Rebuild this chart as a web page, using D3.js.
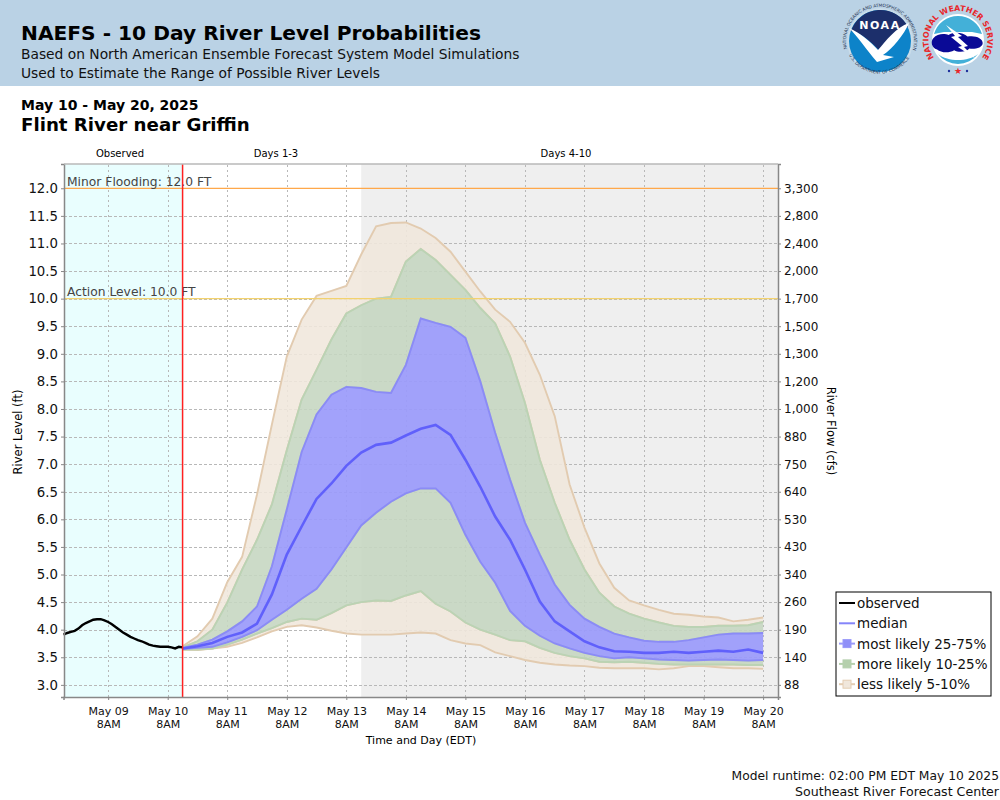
<!DOCTYPE html>
<html>
<head>
<meta charset="utf-8">
<script src="https://cdn.jsdelivr.net/npm/d3@7"></script>
<style>
  body { margin: 0; background: #fff; }
  text { font-family: "DejaVu Sans", sans-serif; }
</style>
</head>
<body>
<div id="chart"></div>
<script>
// river level in ft, one value every 90 minutes from May 8 2PM
var observed = [3.91, 3.94, 3.96, 3.98, 4.02, 4.08, 4.12, 4.15, 4.18, 4.19, 4.19, 4.17, 4.14, 4.10, 4.05, 4.00, 3.95, 3.91, 3.87, 3.84, 3.81, 3.79, 3.76, 3.73, 3.71, 3.70, 3.69, 3.69, 3.69, 3.68, 3.66, 3.69, 3.68];

// forecast, one value every 6 hours from May 10 2PM
var p95 = [3.70, 3.88, 4.20, 4.86, 5.32, 6.45, 7.72, 8.95, 9.62, 10.05, 10.14, 10.23, 10.80, 11.31, 11.37, 11.38, 11.27, 11.10, 10.85, 10.49, 10.13, 9.80, 9.58, 9.20, 8.62, 7.87, 6.63, 5.85, 5.20, 4.76, 4.53, 4.44, 4.36, 4.29, 4.27, 4.24, 4.22, 4.15, 4.18, 4.22];
var p90 = [3.68, 3.79, 4.00, 4.49, 5.09, 5.63, 6.27, 7.25, 8.17, 8.71, 9.26, 9.73, 9.88, 10.00, 10.03, 10.67, 10.90, 10.70, 10.43, 10.16, 9.83, 9.55, 8.95, 8.11, 7.08, 6.30, 5.63, 5.09, 4.67, 4.42, 4.29, 4.20, 4.13, 4.07, 4.05, 4.05, 4.07, 4.07, 4.08, 4.14];
var p75 = [3.67, 3.73, 3.82, 3.97, 4.15, 4.42, 5.15, 6.18, 7.22, 7.90, 8.26, 8.40, 8.38, 8.31, 8.29, 8.80, 9.64, 9.56, 9.49, 9.29, 8.50, 7.57, 6.72, 5.94, 5.36, 4.82, 4.45, 4.20, 4.05, 3.93, 3.86, 3.80, 3.78, 3.78, 3.81, 3.86, 3.91, 3.93, 3.93, 3.94];
var median = [3.66, 3.70, 3.76, 3.87, 3.95, 4.11, 4.64, 5.36, 5.87, 6.37, 6.65, 6.97, 7.21, 7.35, 7.39, 7.52, 7.64, 7.71, 7.53, 7.08, 6.59, 6.05, 5.63, 5.09, 4.51, 4.15, 3.97, 3.79, 3.68, 3.61, 3.60, 3.58, 3.58, 3.60, 3.58, 3.60, 3.62, 3.60, 3.64, 3.58];
var p25 = [3.65, 3.67, 3.69, 3.77, 3.87, 3.99, 4.18, 4.36, 4.56, 4.74, 5.09, 5.49, 5.89, 6.12, 6.32, 6.47, 6.56, 6.56, 6.30, 5.72, 5.23, 4.85, 4.34, 4.07, 3.89, 3.75, 3.66, 3.58, 3.52, 3.48, 3.50, 3.48, 3.46, 3.45, 3.44, 3.45, 3.46, 3.45, 3.44, 3.45];
var p10 = [3.64, 3.64, 3.66, 3.73, 3.82, 3.93, 4.03, 4.14, 4.20, 4.18, 4.30, 4.44, 4.50, 4.53, 4.52, 4.62, 4.70, 4.47, 4.33, 4.13, 4.00, 3.91, 3.81, 3.79, 3.67, 3.58, 3.52, 3.48, 3.42, 3.41, 3.42, 3.40, 3.38, 3.37, 3.37, 3.37, 3.37, 3.37, 3.36, 3.36];
var p05 = [3.64, 3.63, 3.66, 3.69, 3.76, 3.86, 3.97, 4.05, 4.08, 4.04, 3.98, 3.93, 3.91, 3.91, 3.91, 3.93, 3.95, 3.93, 3.81, 3.75, 3.72, 3.59, 3.52, 3.45, 3.40, 3.37, 3.35, 3.34, 3.31, 3.30, 3.30, 3.30, 3.28, 3.30, 3.34, 3.34, 3.32, 3.30, 3.30, 3.29];

var levelTicks = [3, 3.5, 4, 4.5, 5, 5.5, 6, 6.5, 7, 7.5, 8, 8.5, 9, 9.5, 10, 10.5, 11, 11.5, 12];
var flowLabels = ["88", "140", "190", "260", "340", "430", "530", "640", "750", "880", "1,000", "1,200", "1,300", "1,500", "1,700", "2,000", "2,400", "2,800", "3,300"];
var dayLabels = ["May 09", "May 10", "May 11", "May 12", "May 13", "May 14", "May 15", "May 16", "May 17", "May 18", "May 19", "May 20"];
var legendLabels = ["observed", "median", "most likely 25-75%", "more likely 10-25%", "less likely 5-10%"];

var margin = {top: 164, right: 222, bottom: 103, left: 64},
    width = 1000 - margin.left - margin.right,
    height = 800 - margin.top - margin.bottom;

var tan = "#e2cbb0", green = "#bbd3b4";

function hoursFrom(start, n) { return new Date(start + n * 3600000); }
var obsStart = Date.UTC(2025, 4, 8, 14),
    fcstStart = Date.UTC(2025, 4, 10, 14),
    day4Start = Date.UTC(2025, 4, 13, 14),
    plotEnd = Date.UTC(2025, 4, 20, 14);

var svg = d3.select("#chart").append("svg")
    .attr("width", 1000)
    .attr("height", 800);

// header
svg.append("rect").attr("width", 1000).attr("height", 86).attr("fill", "#bad2e5");
svg.append("text").attr("x", 21).attr("y", 40).attr("font-size", 20.2).attr("font-weight", "bold")
    .text("NAEFS - 10 Day River Level Probabilities");
svg.append("text").attr("x", 21).attr("y", 59).attr("font-size", 13.8).attr("fill", "#111")
    .text("Based on North American Ensemble Forecast System Model Simulations");
svg.append("text").attr("x", 21).attr("y", 78).attr("font-size", 13.8).attr("fill", "#111")
    .text("Used to Estimate the Range of Possible River Levels");
svg.append("text").attr("x", 21).attr("y", 110).attr("font-size", 14).attr("font-weight", "bold")
    .text("May 10 - May 20, 2025");
svg.append("text").attr("x", 21).attr("y", 131).attr("font-size", 18.2).attr("font-weight", "bold")
    .text("Flint River near Griffin");

// NOAA logo
var noaa = svg.append("g").attr("transform", "translate(880,41)");
noaa.append("circle").attr("r", 33).attr("fill", "#c9dce9");
noaa.append("circle").attr("r", 31).attr("fill", "#0d83c9");
noaa.append("path").attr("fill", "#1c2f6b")
    .attr("d", "M-29,-10 A31,31 0 0 1 28,-14 C18,-10 8,2 0,10 C-8,2 -18,-8 -29,-10 Z");
noaa.append("path").attr("fill", "#fff")
    .attr("d", "M-31,-13 C-20,-8 -10,0 -2,9 C6,0 16,-14 29,-18 C24,-6 12,8 3,14 L14,16 L-3,21 C-14,8 -22,-4 -31,-13 Z");
noaa.append("text").attr("text-anchor", "middle").attr("y", -12).attr("font-size", 11).attr("font-weight", "bold")
    .attr("letter-spacing", 1.5).attr("fill", "#fff").text("NOAA");
noaa.append("path").attr("id", "noaaRing").attr("fill", "none").attr("d", "M-33,8 A34,34 0 1 1 33,8");
noaa.append("text").attr("font-size", 4.3).attr("fill", "#23304e")
    .append("textPath").attr("href", "#noaaRing").text("NATIONAL OCEANIC AND ATMOSPHERIC ADMINISTRATION");
noaa.append("path").attr("id", "noaaRing2").attr("fill", "none").attr("d", "M-31,14 A35,35 0 0 0 31,14");
noaa.append("text").attr("font-size", 4.3).attr("fill", "#23304e")
    .append("textPath").attr("href", "#noaaRing2").text("U.S. DEPARTMENT OF COMMERCE");

// NWS logo
var nws = svg.append("g").attr("transform", "translate(958,40)");
nws.append("circle").attr("r", 26).attr("fill", "#fff");
nws.append("path").attr("fill", "#43b0d8").attr("d", "M-24,-6 A25,25 0 0 1 24,-6 L14,-8 L-14,-8 Z");
nws.append("path").attr("fill", "#43b0d8").attr("d", "M-20,14 A25,25 0 0 0 20,14 C10,22 -10,22 -20,14 Z");
nws.append("path").attr("fill", "#0a0a96").attr("transform", "translate(0,3) scale(0.95,0.8)")
    .attr("d", "M-26,-6 C-22,-12 -14,-12 -10,-10 C-4,-15 6,-13 10,-8 C18,-10 26,-6 26,0 C26,6 18,8 12,7 C8,12 0,12 -4,9 C-10,13 -18,12 -22,8 C-28,6 -29,-2 -26,-6 Z");
nws.append("path").attr("fill", "#fff")
    .attr("d", "M-12,-15 L4,-4 L0,-3 L10,6 L6,7 L18,19 L0,7 L4,6 L-7,-3 L-3,-4 Z");
nws.append("path").attr("id", "nwsRing").attr("fill", "none").attr("d", "M-21,21 A29.5,29.5 0 1 1 21,21");
nws.append("text").attr("font-size", 7.8).attr("font-weight", "bold").attr("fill", "#e8262a").attr("text-anchor", "middle")
    .append("textPath").attr("href", "#nwsRing").attr("startOffset", "50%").text("NATIONAL WEATHER SERVICE");
nws.append("text").attr("text-anchor", "middle").attr("y", 34).attr("font-size", 9).attr("fill", "#e8262a").text("\u2605");
nws.selectAll(".dot").data([-9, 9]).enter().append("circle")
    .attr("cx", function(d) { return d; })
    .attr("cy", 31)
    .attr("r", 1.2)
    .attr("fill", "#1c2f9b");

// plot
var g = svg.append("g")
    .attr("transform", "translate(" + margin.left + "," + margin.top + ")");

var x = d3.scaleUtc().domain([new Date(obsStart), new Date(plotEnd)]).range([-0.5, width]);
var y = d3.scaleLinear().domain([2.78, 12.44]).range([height, 0]);

var dayTicks = dayLabels.map(function(d, i) { return new Date(Date.UTC(2025, 4, 9 + i, 8)); });

// backgrounds
g.append("rect").attr("width", x(new Date(fcstStart))).attr("height", height).attr("fill", "#e9fefe");
g.append("rect").attr("x", x(new Date(day4Start))).attr("width", width - x(new Date(day4Start))).attr("height", height).attr("fill", "#efefef");

// grid
var gridX = g.append("g").attr("transform", "translate(0," + height + ")")
    .call(d3.axisBottom(x).tickValues(dayTicks).tickSize(-height).tickFormat(""));
var gridY = g.append("g")
    .call(d3.axisLeft(y).tickValues(levelTicks).tickSize(-width).tickFormat(""));
[gridX, gridY].forEach(function(a) {
  a.select(".domain").remove();
  a.selectAll("line").attr("stroke", "#b8b8b8").attr("stroke-dasharray", "2.5,2.5").attr("shape-rendering", "crispEdges");
});

// bands
function tx(d, i) { return x(hoursFrom(fcstStart, i * 6)); }

function band(upper, lower, fill, opacity, stroke) {
  var rows = upper.map(function(d, i) { return [d, lower[i]]; });
  g.append("path").datum(rows)
    .attr("fill", fill).attr("fill-opacity", opacity)
    .attr("d", d3.area().x(tx).y0(function(d) { return y(d[1]); }).y1(function(d) { return y(d[0]); }));
  [0, 1].forEach(function(k) {
    g.append("path").datum(rows)
      .attr("fill", "none").attr("stroke", stroke).attr("stroke-width", 1.9)
      .attr("d", d3.line().x(tx).y(function(d) { return y(d[k]); }));
  });
}

band(p95, p90, "#f0e7dc", 0.88, tan);
band(p10, p05, "#f0e7dc", 0.88, tan);
band(p90, p75, "#c5d6c0", 0.88, green);
band(p25, p10, "#c5d6c0", 0.88, green);
band(p75, p25, "#9a9afb", 0.92, "#8b8bf6");

g.append("path").datum(median)
  .attr("fill", "none").attr("stroke", "#6060fb").attr("stroke-width", 2.6)
  .attr("d", d3.line().x(tx).y(function(d) { return y(d); }));

g.append("path").datum(observed)
  .attr("fill", "none").attr("stroke", "#000").attr("stroke-width", 2.4)
  .attr("d", d3.line()
    .x(function(d, i) { return x(hoursFrom(obsStart, i * 1.5)); })
    .y(function(d) { return y(d); }));

// flood levels
g.append("line").attr("x1", 0).attr("x2", width).attr("y1", y(12)).attr("y2", y(12))
  .attr("stroke", "#ffa84a").attr("stroke-width", 1.2);
g.append("line").attr("x1", 0).attr("x2", width).attr("y1", y(10)).attr("y2", y(10))
  .attr("stroke", "#f3d26e").attr("stroke-width", 1.2);
g.append("text").attr("x", 3).attr("y", y(12) - 2).attr("font-size", 12.3).attr("fill", "#444").text("Minor Flooding: 12.0 FT");
g.append("text").attr("x", 3).attr("y", y(10) - 3).attr("font-size", 12.3).attr("fill", "#444").text("Action Level: 10.0 FT");

// forecast start
g.append("line").attr("x1", x(new Date(fcstStart))).attr("x2", x(new Date(fcstStart)))
  .attr("y1", 0).attr("y2", height).attr("stroke", "#ff2020").attr("stroke-width", 1.5);

// axes
var yLeft = g.append("g").call(d3.axisLeft(y).tickValues(levelTicks).tickSize(3).tickFormat(d3.format(".1f")));
var yRight = g.append("g").attr("transform", "translate(" + width + ",0)")
  .call(d3.axisRight(y).tickValues(levelTicks).tickSize(3).tickFormat(function(d, i) { return flowLabels[i]; }));
var xAxis = g.append("g").attr("transform", "translate(0," + height + ")")
  .call(d3.axisBottom(x).tickValues(dayTicks).tickSize(3).tickFormat(""));
g.append("line").attr("x1", 0).attr("x2", width).attr("y1", 0).attr("y2", 0).attr("stroke", "#b8b8b8").attr("stroke-width", 1.5);

[yLeft, yRight, xAxis].forEach(function(a) {
  a.select(".domain").attr("stroke", "#888").attr("stroke-width", 1.5);
  a.selectAll("line").attr("stroke", "#888");
});
yLeft.selectAll("text").attr("font-size", 13.3).attr("font-family", "DejaVu Sans").attr("fill", "#111");
yRight.selectAll("text").attr("font-size", 12).attr("font-family", "DejaVu Sans").attr("fill", "#111");

var xLabels = xAxis.selectAll(".tick").append("text")
  .attr("text-anchor", "middle").attr("font-size", 11).attr("fill", "#111");
xLabels.append("tspan").attr("x", 0).attr("y", 18).text(function(d, i) { return dayLabels[i]; });
xLabels.append("tspan").attr("x", 0).attr("y", 31).text("8AM");

// zone labels
[["Observed", 120], ["Days 1-3", 276], ["Days 4-10", 566]].forEach(function(d) {
  svg.append("text").attr("x", d[1]).attr("y", 157).attr("text-anchor", "middle").attr("font-size", 10).text(d[0]);
});

// axis titles
svg.append("text").attr("x", 421).attr("y", 744).attr("text-anchor", "middle").attr("font-size", 11).text("Time and Day (EDT)");
svg.append("text").attr("transform", "translate(22,432) rotate(-90)").attr("text-anchor", "middle").attr("font-size", 11.5).text("River Level (ft)");
svg.append("text").attr("transform", "translate(827,431) rotate(90)").attr("text-anchor", "middle").attr("font-size", 11.5).text("River Flow (cfs)");

// legend
var legend = svg.append("g").attr("transform", "translate(836,592)");
legend.append("rect").attr("width", 155).attr("height", 104).attr("fill", "#fff").attr("stroke", "#000").attr("stroke-width", 1);
var legendStroke = ["#000", "#8585fa", "#9a9afa", "#b5d0ad", "#e3cdb3"];
var legendFill = [null, null, "#8f8ff8", "#b5d0ad", "#f0e7dc"];
var rows = legend.selectAll(".row").data(legendLabels).enter().append("g")
  .attr("transform", function(d, i) { return "translate(0," + (11 + i * 20.3) + ")"; });
rows.append("line").attr("x1", 3).attr("x2", 19)
  .attr("stroke", function(d, i) { return legendStroke[i]; }).attr("stroke-width", 2);
rows.filter(function(d, i) { return legendFill[i]; }).append("rect")
  .attr("x", 7).attr("y", -4).attr("width", 8).attr("height", 8)
  .attr("fill", function(d) { return legendFill[legendLabels.indexOf(d)]; })
  .attr("stroke", function(d) { return legendStroke[legendLabels.indexOf(d)]; });
rows.append("text").attr("x", 21).attr("y", 5).attr("font-size", 13.5).attr("fill", "#111")
  .text(function(d) { return d; });

// footer
svg.append("text").attr("x", 999).attr("y", 780).attr("text-anchor", "end").attr("font-size", 12.3).attr("fill", "#111")
  .text("Model runtime: 02:00 PM EDT May 10 2025");
svg.append("text").attr("x", 999).attr("y", 796).attr("text-anchor", "end").attr("font-size", 12.6).attr("fill", "#111")
  .text("Southeast River Forecast Center");
</script>
</body>
</html>
